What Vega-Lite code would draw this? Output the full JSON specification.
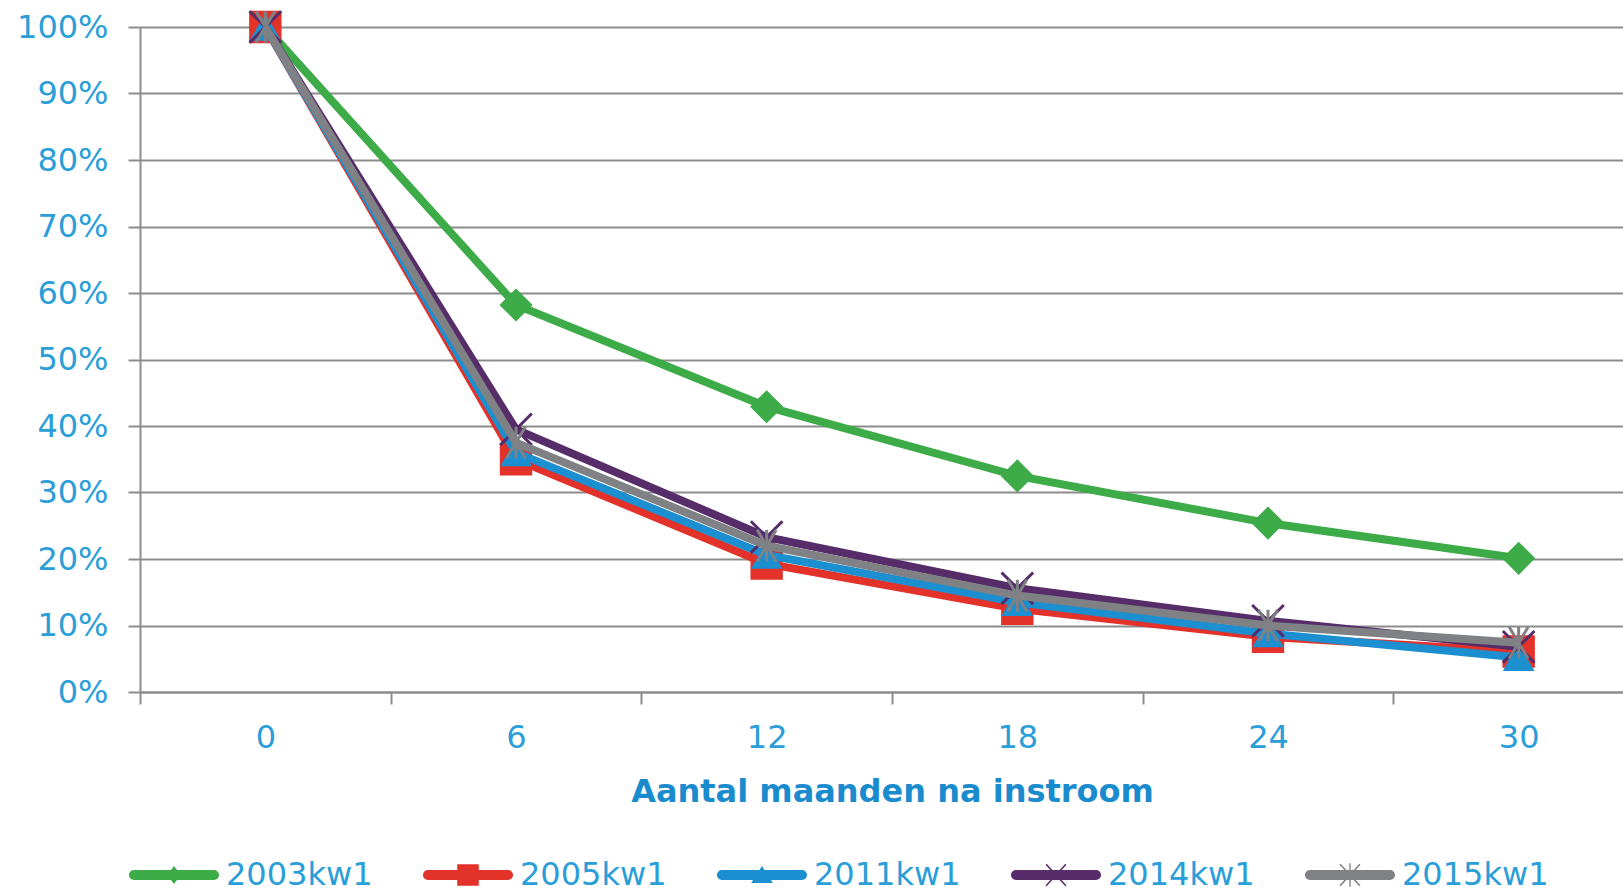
{
  "$schema": "https://vega.github.io/schema/vega-lite/v6.json",
  "autosize": {"type": "none"},
  "padding": {"left": 140, "top": 27, "right": 0, "bottom": 203},
  "width": 1483,
  "height": 665,
  "background": "white",
  "config": {
    "view": {"stroke": null},
    "axis": {
      "labelFont": "DejaVu Sans",
      "labelFontSize": 32,
      "labelColor": "#2a9ed8",
      "titleFont": "DejaVu Sans",
      "titleFontSize": 32,
      "titleFontWeight": "bold",
      "titleColor": "#1a8bcd",
      "domainColor": "#8c8c8c",
      "domainWidth": 2,
      "tickColor": "#8c8c8c",
      "tickWidth": 2,
      "tickSize": 12,
      "gridColor": "#8c8c8c",
      "gridWidth": 2
    },
    "legend": {"orient": "none", "legendX": -11, "legendY": 803, "direction": "horizontal", "symbolOpacity": 1, "symbolStrokeWidth": 0, "symbolSize": 8100, "labelFont": "DejaVu Sans", "labelFontSize": 32, "labelColor": "#2a9ed8", "labelOffset": 7, "columnPadding": 50, "padding": 0}
  },
  "data": {"values": [
    {"m": 0, "series": "2003kw1", "v": 1.0},
    {"m": 6, "series": "2003kw1", "v": 0.582},
    {"m": 12, "series": "2003kw1", "v": 0.429},
    {"m": 18, "series": "2003kw1", "v": 0.325},
    {"m": 24, "series": "2003kw1", "v": 0.254},
    {"m": 30, "series": "2003kw1", "v": 0.201},
    {"m": 0, "series": "2005kw1", "v": 1.0},
    {"m": 6, "series": "2005kw1", "v": 0.350},
    {"m": 12, "series": "2005kw1", "v": 0.193},
    {"m": 18, "series": "2005kw1", "v": 0.125},
    {"m": 24, "series": "2005kw1", "v": 0.083},
    {"m": 30, "series": "2005kw1", "v": 0.061},
    {"m": 0, "series": "2011kw1", "v": 1.0},
    {"m": 6, "series": "2011kw1", "v": 0.360},
    {"m": 12, "series": "2011kw1", "v": 0.206},
    {"m": 18, "series": "2011kw1", "v": 0.135},
    {"m": 24, "series": "2011kw1", "v": 0.088},
    {"m": 30, "series": "2011kw1", "v": 0.052},
    {"m": 0, "series": "2014kw1", "v": 1.0},
    {"m": 6, "series": "2014kw1", "v": 0.395},
    {"m": 12, "series": "2014kw1", "v": 0.233},
    {"m": 18, "series": "2014kw1", "v": 0.156},
    {"m": 24, "series": "2014kw1", "v": 0.107},
    {"m": 30, "series": "2014kw1", "v": 0.068},
    {"m": 0, "series": "2015kw1", "v": 1.0},
    {"m": 6, "series": "2015kw1", "v": 0.375},
    {"m": 12, "series": "2015kw1", "v": 0.220},
    {"m": 18, "series": "2015kw1", "v": 0.145},
    {"m": 24, "series": "2015kw1", "v": 0.100},
    {"m": 30, "series": "2015kw1", "v": 0.074}
  ]},
  "encoding": {
    "x": {
      "field": "m", "type": "ordinal",
      "scale": {"range": [0, 1504], "paddingInner": 0, "paddingOuter": 0},
      "axis": {"title": "Aantal maanden na instroom", "labelAngle": 0, "tickBand": "extent", "labelPadding": 18, "titlePadding": 23, "grid": false}
    },
    "y": {
      "field": "v", "type": "quantitative",
      "scale": {"domain": [0, 1]},
      "axis": {"title": null, "format": ".0%", "values": [0, 0.1, 0.2, 0.3, 0.4, 0.5, 0.6, 0.7, 0.8, 0.9, 1.0], "labelPadding": 20, "grid": true}
    }
  },
  "layer": [
    {
      "transform": [{"filter": "datum.series === '2003kw1'"}],
      "layer": [
        {"mark": {"type": "line", "strokeWidth": 8, "color": "#3dab48"}},
        {"mark": {"type": "point", "filled": true, "opacity": 1, "color": "#3dab48", "shape": "diamond", "size": 1100}}
      ]
    },
    {
      "transform": [{"filter": "datum.series === '2005kw1'"}],
      "layer": [
        {"mark": {"type": "line", "strokeWidth": 8, "color": "#e2322a"}},
        {"mark": {"type": "point", "filled": true, "opacity": 1, "color": "#e2322a", "shape": "square", "size": 1050}}
      ]
    },
    {
      "transform": [{"filter": "datum.series === '2011kw1'"}],
      "layer": [
        {"mark": {"type": "line", "strokeWidth": 8, "color": "#1b8fd0"}},
        {"mark": {"type": "point", "filled": true, "opacity": 1, "color": "#1b8fd0", "shape": "triangle-up", "size": 1000}}
      ]
    },
    {
      "transform": [{"filter": "datum.series === '2014kw1'"}],
      "layer": [
        {"mark": {"type": "line", "strokeWidth": 8, "color": "#562d69"}},
        {"mark": {"type": "point", "filled": false, "opacity": 1, "color": "#562d69", "strokeWidth": 3, "shape": "M-1,-1L1,1M1,-1L-1,1", "size": 1000}}
      ]
    },
    {
      "transform": [{"filter": "datum.series === '2015kw1'"}],
      "layer": [
        {"mark": {"type": "line", "strokeWidth": 8, "color": "#7f8184"}},
        {"mark": {"type": "point", "filled": false, "opacity": 1, "color": "#7f8184", "strokeWidth": 3, "shape": "M-0.6,-1L0.6,1M0.6,-1L-0.6,1M0,-1L0,1", "size": 1000}}
      ]
    },
    {
      "mark": {"type": "point", "filled": true, "opacity": 0.001, "size": 8100},
      "encoding": {
        "color": {
          "field": "series", "type": "nominal",
          "scale": {"domain": ["2003kw1", "2005kw1", "2011kw1", "2014kw1", "2015kw1"], "range": ["#3dab48", "#e2322a", "#1b8fd0", "#562d69", "#7f8184"]},
          "legend": {"title": null, "symbolOpacity": 1}
        },
        "shape": {
          "field": "series", "type": "nominal",
          "scale": {"domain": ["2003kw1", "2005kw1", "2011kw1", "2014kw1", "2015kw1"], "range": [
            "M-0.89,-0.11H0.89A0.11,0.11 0 0 1 0.89,0.11H-0.89A0.11,0.11 0 0 1 -0.89,-0.11Z M0,-0.2L0.15,0L0,0.2L-0.15,0Z",
            "M-0.89,-0.11H0.89A0.11,0.11 0 0 1 0.89,0.11H-0.89A0.11,0.11 0 0 1 -0.89,-0.11Z M-0.24,-0.24H0.24V0.24H-0.24Z",
            "M-0.89,-0.11H0.89A0.11,0.11 0 0 1 0.89,0.11H-0.89A0.11,0.11 0 0 1 -0.89,-0.11Z M0,-0.2L0.24,0.18L-0.24,0.18Z",
            "M-0.89,-0.11H0.89A0.11,0.11 0 0 1 0.89,0.11H-0.89A0.11,0.11 0 0 1 -0.89,-0.11Z M-0.207,-0.252L0.233,0.228L0.207,0.252L-0.233,-0.228Z M0.233,-0.228L-0.207,0.252L-0.233,0.228L0.207,-0.252Z",
            "M-0.89,-0.11H0.89A0.11,0.11 0 0 1 0.89,0.11H-0.89A0.11,0.11 0 0 1 -0.89,-0.11Z M-0.207,-0.252L0.233,0.228L0.207,0.252L-0.233,-0.228Z M0.233,-0.228L-0.207,0.252L-0.233,0.228L0.207,-0.252Z M-0.015,-0.26H0.015V0.26H-0.015Z"
          ]},
          "legend": {"title": null, "symbolOpacity": 1}
        }
      }
    }
  ]
}
